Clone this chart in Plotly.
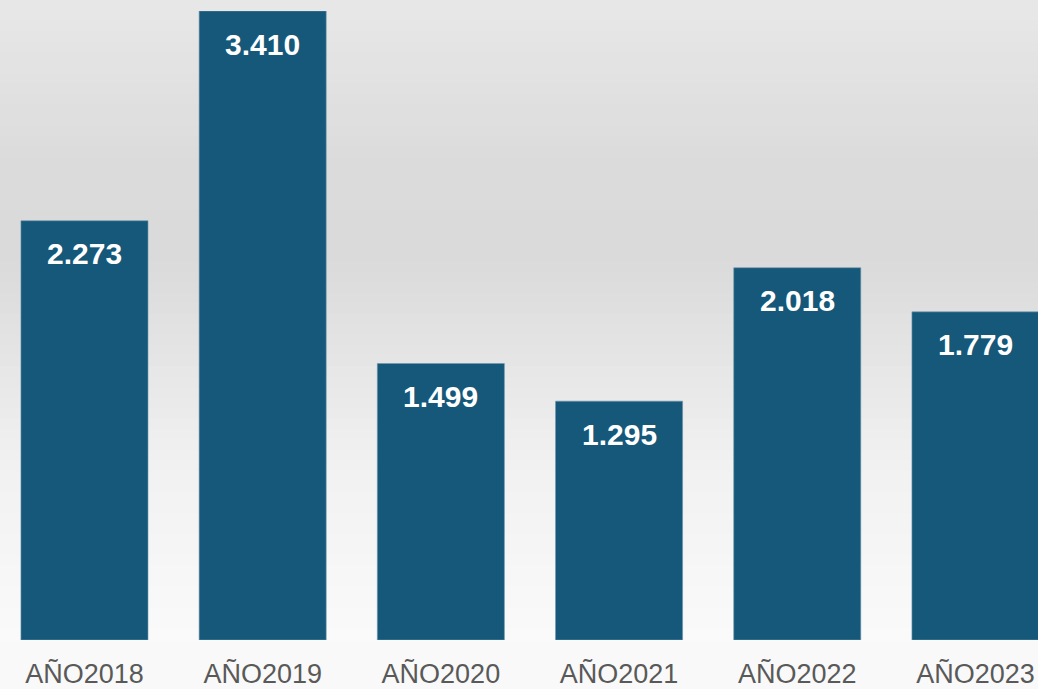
import plotly.graph_objects as go

categories = ["AÑO2018", "AÑO2019", "AÑO2020", "AÑO2021", "AÑO2022", "AÑO2023"]
values = [2273, 3410, 1499, 1295, 2018, 1779]
value_labels = ["2.273", "3.410", "1.499", "1.295", "2.018", "1.779"]

BAR_COLOR = "#15587a"

fig = go.Figure()
fig.add_trace(go.Bar(
    x=categories, y=values,
    marker=dict(color=BAR_COLOR, line=dict(color="#6f97ad", width=0.6)),
    width=0.713,
    hoverinfo="x+y",
))

for c, v, t in zip(categories, values, value_labels):
    fig.add_annotation(x=c, y=v, text=f"<b>{t}</b>", showarrow=False,
                       yanchor="middle", yshift=-33,
                       font=dict(family="Liberation Sans, Arial", size=30, color="white"))

# background gradient (light gray top, darker band, fading to white at bottom)
stops = [(0.0, (231, 231, 231)), (0.25, (219, 219, 219)), (0.40, (218, 218, 218)),
         (0.72, (241, 241, 241)), (1.0, (250, 250, 250))]
def col_at(f):
    for (f0, c0), (f1, c1) in zip(stops[:-1], stops[1:]):
        if f0 <= f <= f1:
            t = (f - f0) / (f1 - f0) if f1 > f0 else 0
            return tuple(round(a + (b - a) * t) for a, b in zip(c0, c1))
    return stops[-1][1]
N = 60
shapes = []
for i in range(N):
    f = (i + 0.5) / N
    r, g, b = col_at(f)
    top = 1 - i / N + 0.002 if i > 0 else 1.05
    shapes.append(dict(type="rect", xref="paper", yref="paper", layer="below",
                       x0=-0.01, x1=1.01, y0=1 - (i + 1) / N - 0.002, y1=top,
                       fillcolor=f"rgb({r},{g},{b})", line=dict(width=0)))

fig.update_layout(
    width=1038, height=689,
    margin=dict(l=0, r=0, t=11, b=47),
    paper_bgcolor="#f9f9f9",
    plot_bgcolor="rgba(0,0,0,0)",
    shapes=shapes,
    showlegend=False,
    xaxis=dict(range=[-0.474, 5.351], showgrid=False, zeroline=False, showline=False,
               ticks="", ticklabelstandoff=15,
               tickfont=dict(family="Liberation Sans, Arial", size=27, color="#595959"),
               fixedrange=True),
    yaxis=dict(range=[0, 3410], visible=False, showgrid=False, zeroline=False, fixedrange=True),
    bargap=0.287,
)

fig.write_html("out.html", config={"displayModeBar": False},
               post_script="document.body.style.margin='0';document.body.style.overflow='hidden';")
